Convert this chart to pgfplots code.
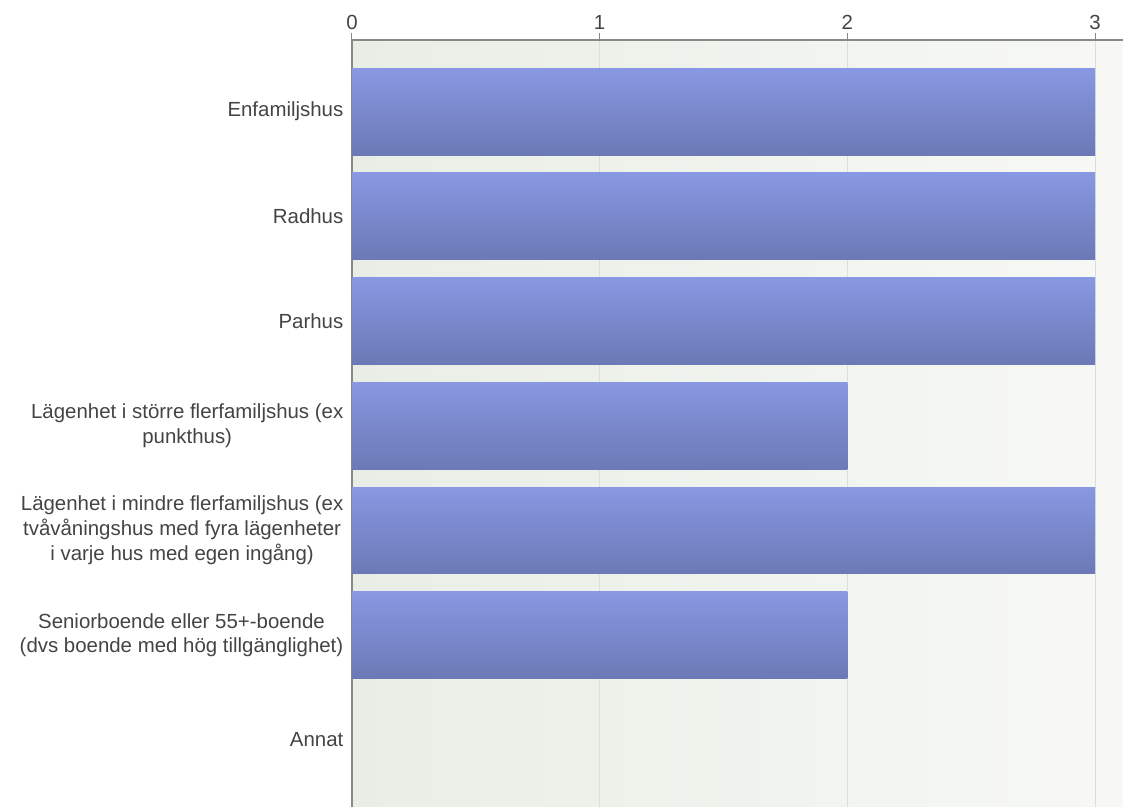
\documentclass[border=0pt]{standalone}
\usepackage{fontspec}
\setmainfont{Liberation Sans}
\usepackage{pgfplots}
\pgfplotsset{compat=1.18}
\definecolor{bartop}{HTML}{8898E2}
\definecolor{barbot}{HTML}{6C79B6}
\definecolor{bgleft}{HTML}{E8EEE5}
\definecolor{bgright}{HTML}{F7F8F5}
\definecolor{axisgray}{HTML}{888888}
\definecolor{gridgray}{HTML}{DADDE2}
\definecolor{labelgray}{HTML}{444444}

\begin{document}
\begin{tikzpicture}
\begin{axis}[
  at={(352bp,0bp)}, anchor=south west,
  scale only axis, width=771bp, height=767bp,
  xbar, bar width=0.83, bar shift=0pt,
  xmin=0, xmax=3.113,
  ymin=-0.683, ymax=6.64, y dir=reverse,
  ytick={0,...,6},
  yticklabels={
    Enfamiljshus,
    Radhus,
    Parhus,
    {Lägenhet i större flerfamiljshus (ex\\punkthus)},
    {Lägenhet i mindre flerfamiljshus (ex\\tvåvåningshus med fyra lägenheter\\i varje hus med egen ingång)},
    {Seniorboende eller 55+-boende\\(dvs boende med hög tillgänglighet)},
    Annat},
  xtick={0,1,2,3},
  axis x line*=top, axis y line*=left,
  axis line style={axisgray, line width=1.5bp, -},
  tick align=outside, major tick length=7bp,
  xtick style={axisgray, line width=1bp},
  ytick style={draw=none},
  xmajorgrids, grid style={gridgray, line width=1bp},
  axis background/.style={left color=bgleft, right color=bgright},
  tick label style={font=\fontsize{20.5}{25}\selectfont, text=labelgray},
  /pgf/number format/assume math mode=true,
  yticklabel style={align=center, inner xsep=1.5bp},
  barstyle/.style={draw=none, top color=bartop, bottom color=barbot},
]
% one plot per bar so that each bar gets its own gradient; Annat = 0
\addplot[barstyle] coordinates {(3,0)};
\addplot[barstyle] coordinates {(3,1)};
\addplot[barstyle] coordinates {(3,2)};
\addplot[barstyle] coordinates {(2,3)};
\addplot[barstyle] coordinates {(3,4)};
\addplot[barstyle] coordinates {(2,5)};
\end{axis}
\pgfresetboundingbox
\path[use as bounding box] (0,0) rectangle (1123bp,807bp);
\end{tikzpicture}
\end{document}
